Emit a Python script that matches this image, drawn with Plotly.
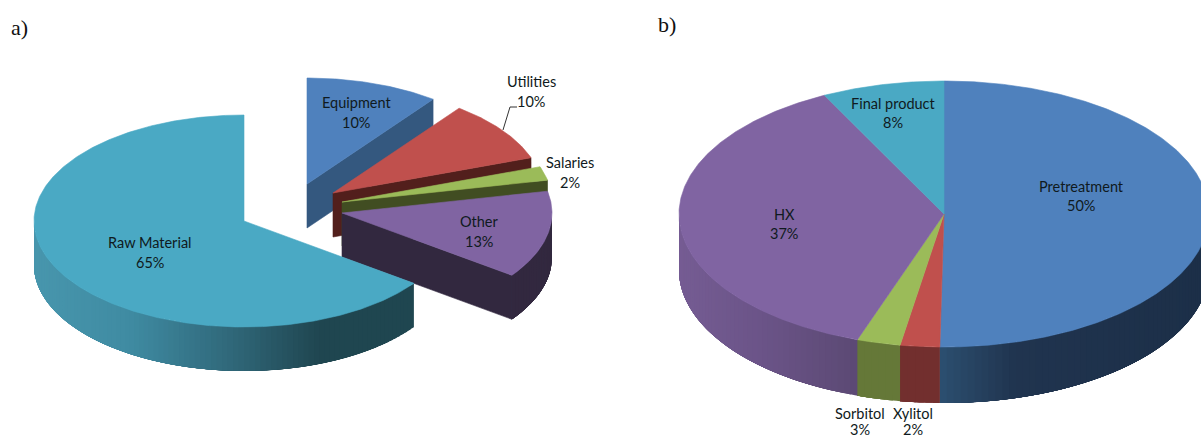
import math
import plotly.graph_objects as go

# ---- data ----
a_categories = ["Equipment", "Utilities", "Salaries", "Other", "Raw Material"]
a_values = [10.25, 9.35, 2.1, 13.3, 65]
a_labels = ["10%", "10%", "2%", "13%", "65%"]
b_categories = ["Pretreatment", "Xylitol", "Sorbitol", "HX", "Final product"]
b_values = [50.25, 2.4, 2.65, 37.25, 7.45]
b_labels = ["50%", "2%", "3%", "37%", "8%"]

# ---- styles and layout ----
W, H = 1201, 437
a_geom = dict(rx=210, ry=106, depth=44)
b_geom = dict(rx=265, ry=133, depth=56)
a_centers = [(307, 184), (333, 193), (342, 202), (342, 213), (244, 221)]
b_center = (944, 214)
a_top = ["#4f81bd", "#c0504d", "#9bbb59", "#8064a2", "#4aa9c4"]
a_side = ["#34587f", "#521f1c", "#414d22", "#32283f", "#1f4650"]
a_side_grad = {4: [(34, "#4896ad"), (130, "#3f8ba2"), (230, "#30687a"), (320, "#1f4650"), (420, "#1f4650")]}
b_top = ["#4f81bd", "#c0504d", "#9bbb59", "#8064a2", "#4aa9c4"]
b_side_grad = [
    [(940, "#2c4f70"), (1015, "#20344f"), (1201, "#1c2f48")],
    [(890, "#722f2e"), (940, "#722f2e")],
    [(850, "#657838"), (900, "#657838")],
    [(679, "#755c93"), (760, "#6b5488"), (857, "#5c4974")],
    [(0, "#4aa9c4"), (1201, "#4aa9c4")],
]
TEXT = "#0f1a20"
FONT = "Lato"
SIZE = 14.5
a_text_pos = [(356, 102), (531, 81), (570, 162), (479, 221), (150, 242)]
b_text_pos = [(1081, 186), (913, 413), (860, 413), (784, 214), (893, 103)]
b_pct_gap = [19, 16, 16, 19, 19]
LEADER = ([503, 510, 517], [130, 107, 107])

fig = go.Figure()


def hex2rgb(c):
    return [int(c[i:i + 2], 16) for i in (1, 3, 5)]


def grad(stops, x):
    if x <= stops[0][0]:
        return stops[0][1]
    for (x0, c0), (x1, c1) in zip(stops, stops[1:]):
        if x <= x1:
            t = (x - x0) / (x1 - x0)
            r = [round(p + (q - p) * t) for p, q in zip(hex2rgb(c0), hex2rgb(c1))]
            return "#%02x%02x%02x" % tuple(r)
    return stops[-1][1]


def pt(c, g, deg):
    t = math.radians(deg)
    return c[0] + g["rx"] * math.sin(t), c[1] - g["ry"] * math.cos(t)


def poly(xs, ys, color, edge=0.6):
    fig.add_trace(go.Scatter(x=xs, y=ys, mode="lines" if edge else "none", fill="toself", fillcolor=color,
                             line=dict(color=color, width=edge), hoverinfo="skip", showlegend=False))


def top(c, g, a0, a1, color):
    n = max(2, int((a1 - a0) * 2))
    pts = [pt(c, g, a0 + (a1 - a0) * i / n) for i in range(n + 1)]
    poly([c[0]] + [p[0] for p in pts] + [c[0]], [c[1]] + [p[1] for p in pts] + [c[1]], color)


def radial(c, g, a, color):
    p = pt(c, g, a)
    d = g["depth"]
    poly([c[0], p[0], p[0], c[0], c[0]], [c[1], p[1], p[1] + d, c[1] + d, c[1]], color)


def outer(c, g, a0, a1, stops):
    """Side wall: each strip runs on under the next one, so no seams show."""
    a0, a1 = max(a0, 90), min(a1, 270)
    if a1 <= a0:
        return
    n = max(1, int((a1 - a0) / 1.5))
    d = g["depth"]
    for i in range(n):
        u0 = a0 + (a1 - a0) * i / n
        mid = a0 + (a1 - a0) * (i + 0.5) / n
        steps = [u0 + (a1 - u0) * k / 12 for k in range(13)]
        steps = [s for s in steps if s <= u0 + 12] + [min(a1, u0 + 12)]
        pts = [pt(c, g, s) for s in steps]
        xs = [p[0] for p in pts] + [p[0] for p in reversed(pts)]
        ys = [p[1] for p in pts] + [p[1] + d for p in reversed(pts)]
        poly(xs + xs[:1], ys + ys[:1], grad(stops, pt(c, g, mid)[0]), edge=0)


def angles(values):
    total = sum(values)
    out, run = [], 0.0
    for v in values:
        out.append((run * 360 / total, (run + v) * 360 / total))
        run += v
    return out


# chart a: exploded pie, back to front
for i, (a0, a1) in enumerate(angles(a_values)):
    c = a_centers[i]
    if i < 4:
        radial(c, a_geom, a1, a_side[i])
    stops = a_side_grad.get(i, [(0, a_side[i]), (1201, a_side[i])])
    outer(c, a_geom, a0, a1, stops)
    top(c, a_geom, a0, a1, a_top[i])

# chart b: solid pie
for i, (a0, a1) in enumerate(angles(b_values)):
    outer(b_center, b_geom, a0, a1, b_side_grad[i])
for i, (a0, a1) in enumerate(angles(b_values)):
    top(b_center, b_geom, a0, a1, b_top[i])

fig.add_trace(go.Scatter(x=LEADER[0], y=LEADER[1], mode="lines", line=dict(color="#333333", width=1),
                         hoverinfo="skip", showlegend=False))


def label(x, y, s, size=SIZE, fam=FONT, color=TEXT):
    fig.add_annotation(x=x, y=y, text=s, showarrow=False, xanchor="center", yanchor="middle",
                       font=dict(family=fam, size=size, color=color))


for (x, y), name, pct in zip(a_text_pos, a_categories, a_labels):
    label(x, y, name)
    label(x, y + 20, pct)
for (x, y), name, pct, gap in zip(b_text_pos, b_categories, b_labels, b_pct_gap):
    label(x, y, name)
    label(x, y + gap, pct)
label(19, 27, "a)", 22, "Liberation Serif", "#111111")
label(667, 24, "b)", 22, "Liberation Serif", "#111111")

fig.update_layout(
    width=W, height=H, margin=dict(l=0, r=0, t=0, b=0),
    paper_bgcolor="white", plot_bgcolor="white", showlegend=False,
    xaxis=dict(range=[0, W], visible=False, fixedrange=True),
    yaxis=dict(range=[H, 0], visible=False, fixedrange=True),
)
fig.write_html("out.html", config={"displayModeBar": False},
               post_script="document.body.style.margin='0';document.body.style.overflow='hidden';")
